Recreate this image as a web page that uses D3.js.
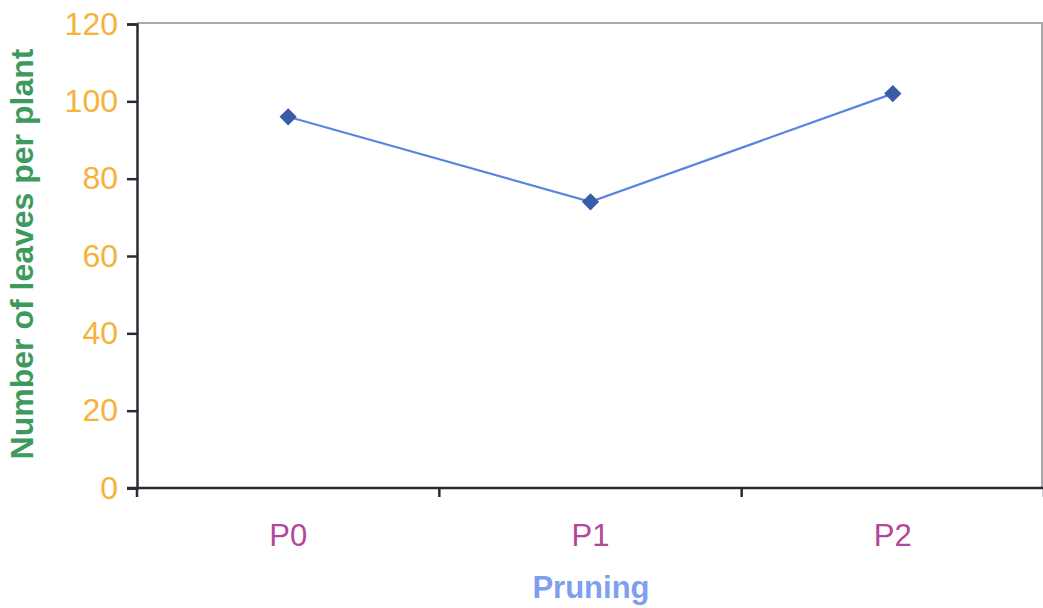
<!DOCTYPE html>
<html>
<head>
<meta charset="utf-8">
<script src="https://cdn.jsdelivr.net/npm/d3@7"></script>
<style>
  html, body { margin: 0; padding: 0; background: #ffffff; }
  svg { display: block; font-family: Arial, "Liberation Sans", sans-serif; }
</style>
</head>
<body>
<svg id="chart" width="1043" height="608"></svg>
<script>
// Leaves per plant under each pruning treatment
const categories = ["P0", "P1", "P2"];
const leaves = [96, 74, 102];
const yTicks = [0, 20, 40, 60, 80, 100, 120];

const svg = d3.select("#chart");
const margin = { left: 137, right: 1044, top: 24, bottom: 488 };

const x = d3.scaleBand().domain(categories).range([margin.left, margin.right]);
const y = d3.scaleLinear().domain([0, 120]).range([margin.bottom, margin.top]);

// Plot frame (top and right edges, light grey)
svg.append("path")
  .attr("d", `M${margin.left},${margin.top - 1}H${1042}V${margin.bottom}`)
  .attr("fill", "none")
  .attr("stroke", "#a9a9a9")
  .attr("stroke-width", 2);

// Y axis
const yAxis = svg.append("g")
  .attr("transform", `translate(${margin.left},0)`)
  .call(d3.axisLeft(y).tickValues(yTicks).tickSize(10).tickPadding(9));
yAxis.select(".domain").attr("stroke", "#2b2b35").attr("stroke-width", 2.5);
yAxis.selectAll(".tick line").attr("stroke", "#2b2b35").attr("stroke-width", 2.5);
yAxis.selectAll(".tick text")
  .attr("fill", "#f6b23a")
  .attr("font-size", 32)
  .attr("font-family", "Arial, 'Liberation Sans', sans-serif");

// X axis: ticks at the band edges
const xAxis = svg.append("g")
  .attr("transform", `translate(0,${margin.bottom})`);
xAxis.append("line")
  .attr("x1", margin.left - 10).attr("x2", 1043)
  .attr("y1", 0).attr("y2", 0)
  .attr("stroke", "#2b2b35").attr("stroke-width", 2.5);
const edges = categories.map(c => x(c)).concat([x(categories[categories.length - 1]) + x.bandwidth()]);
xAxis.selectAll("line.edge")
  .data(edges)
  .join("line")
  .attr("class", "edge")
  .attr("x1", d => d).attr("x2", d => d)
  .attr("y1", 0).attr("y2", 9)
  .attr("stroke", "#2b2b35").attr("stroke-width", 2.5);
xAxis.selectAll("text")
  .data(categories)
  .join("text")
  .attr("x", d => x(d) + x.bandwidth() / 2)
  .attr("y", 58)
  .attr("text-anchor", "middle")
  .attr("fill", "#b2489a")
  .attr("font-size", 31)
  .text(d => d);

// Series line and diamond markers
const pts = categories.map((c, i) => [x(c) + x.bandwidth() / 2, y(leaves[i])]);
svg.append("path")
  .attr("d", d3.line()(pts))
  .attr("fill", "none")
  .attr("stroke", "#5a84e2")
  .attr("stroke-width", 2.2);
svg.selectAll("path.marker")
  .data(pts)
  .join("path")
  .attr("class", "marker")
  .attr("transform", d => `translate(${d[0]},${d[1]})`)
  .attr("d", d3.symbol().type(d3.symbolDiamond2).size(190))
  .attr("fill", "#3a5ba8");

// Axis titles
svg.append("text")
  .attr("x", 591)
  .attr("y", 598)
  .attr("text-anchor", "middle")
  .attr("fill", "#7e9ff0")
  .attr("font-size", 31)
  .attr("font-weight", "bold")
  .text("Pruning");

svg.append("text")
  .attr("transform", `translate(33,254) rotate(-90)`)
  .attr("text-anchor", "middle")
  .attr("fill", "#3d9a5e")
  .attr("font-size", 32)
  .attr("font-weight", "bold")
  .text("Number of leaves per plant");
</script>
</body>
</html>
